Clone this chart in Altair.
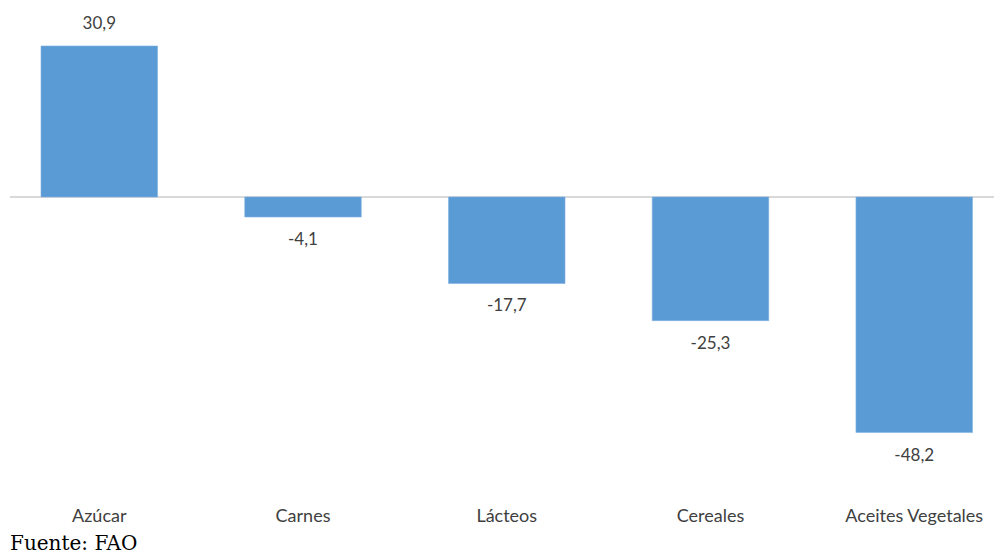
import altair as alt
import pandas as pd

categories = ["Azúcar", "Carnes", "Lácteos", "Cereales", "Aceites Vegetales"]
values = [30.9, -4.1, -17.7, -25.3, -48.2]

df = pd.DataFrame({"cat": categories, "v": values})

LABEL_FONT = "Lato"
YDOM = [-57.5, 38.67]
x = alt.X("cat:N", sort=categories,
          scale=alt.Scale(range=[33, 964.5], paddingInner=0.428, paddingOuter=0),
          axis=alt.Axis(title=None, domain=False, ticks=False, labelAngle=0,
                        labelFont=LABEL_FONT, labelFontSize=18, labelColor="#404040",
                        labelPadding=29, labelBaseline="top"))
y = alt.Y("v:Q", scale=alt.Scale(domain=YDOM, nice=False, zero=False), axis=None)

base = alt.Chart(df).encode(x=x, y=y)

bars = base.mark_bar(color="#5B9BD5", stroke="#7fb1e0", strokeWidth=0.6)

rule = alt.Chart(pd.DataFrame({"z": [0]})).mark_rule(color="#d9d9d9", strokeWidth=2).encode(
    y=alt.Y("z:Q", scale=alt.Scale(domain=YDOM, nice=False, zero=False), axis=None),
    x=alt.value(2), x2=alt.value(986))

lab = base.transform_calculate(
    lbl="replace(replace(format(datum.v, '.1f'), '.', ','), '\u2212', '-')"
).encode(text="lbl:N")

pos = lab.transform_filter("datum.v >= 0").mark_text(
    font=LABEL_FONT, fontSize=17, color="#404040", baseline="middle", dy=-22)
neg = lab.transform_filter("datum.v < 0").mark_text(
    font=LABEL_FONT, fontSize=17, color="#404040", baseline="middle", dy=23)

chart = alt.layer(rule, bars, pos, neg).properties(
    width=986, height=470,
    autosize=alt.AutoSizeParams(type="none"),
    padding={"left": 0, "top": 0, "right": 0, "bottom": 80},
    title=alt.TitleParams("Fuente: FAO", orient="bottom", anchor="start",
                          font="DejaVu Serif", fontSize=20, fontWeight="normal",
                          color="#000000", offset=9, frame="group", dx=2),
).configure_view(stroke=None)

chart.save("out.html", embed_options={"renderer": "svg", "actions": False})
